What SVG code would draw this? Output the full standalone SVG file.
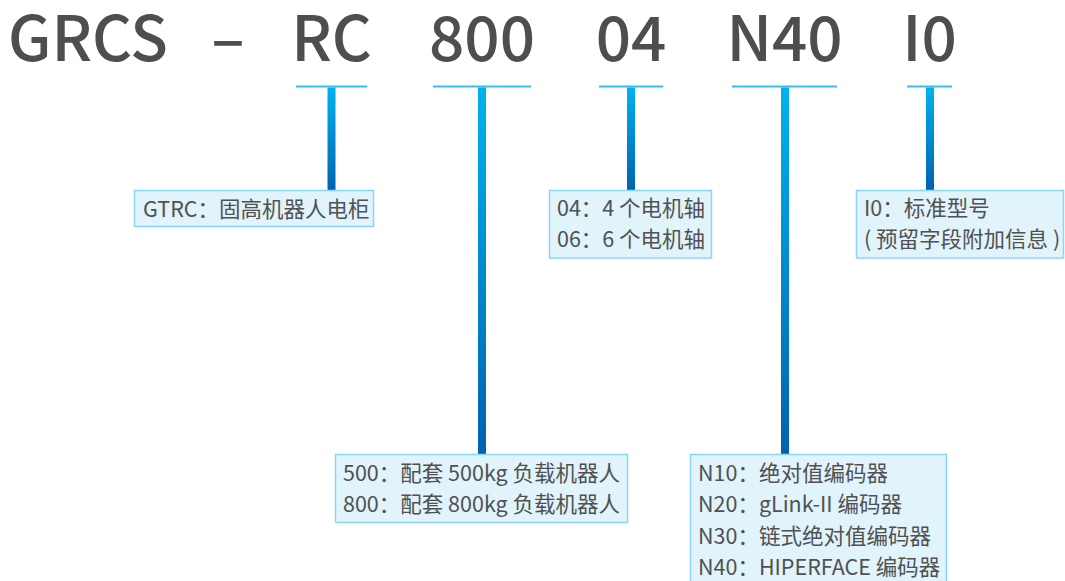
<svg xmlns="http://www.w3.org/2000/svg" width="1065" height="581" viewBox="0 0 1065 581">
<style>
.title{font-family:"Noto Sans CJK SC","Noto Sans",sans-serif;font-size:62px;font-weight:500;fill:#4d4e50;text-anchor:middle}
.lbl{font-family:"Noto Sans CJK SC","Noto Sans",sans-serif;font-size:21.5px;fill:#505152}
.box{fill:#e1f3fb;stroke:#8ad6f7;stroke-width:1.5}
.ul{fill:#33bff2}
.bar{fill:url(#g)}
</style>
<defs>
<linearGradient id="g" x1="0" y1="0" x2="0" y2="1">
<stop offset="0" stop-color="#00b2ef"/>
<stop offset="1" stop-color="#0062b1"/>
</linearGradient>
</defs>
<g id="title">
<text class="title" x="88" y="61">GRCS</text>
<text class="title" x="228" y="61">–</text>
<text class="title" x="331.5" y="61">RC</text>
<text class="title" x="482" y="61">800</text>
<text class="title" x="631" y="61">04</text>
<text class="title" x="784.5" y="61">N40</text>
<text class="title" x="929.5" y="61">I0</text>
</g>
<g id="connectors">
<rect class="ul" x="296" y="85.5" width="71" height="2"/>
<rect class="ul" x="433" y="85.5" width="98" height="2"/>
<rect class="ul" x="599" y="85.5" width="64" height="2"/>
<rect class="ul" x="732" y="85.5" width="105" height="2"/>
<rect class="ul" x="907" y="85.5" width="45" height="2"/>
<rect class="bar" x="327.5" y="87.5" width="8" height="103"/>
<rect class="bar" x="478" y="87.5" width="8" height="367"/>
<rect class="bar" x="627" y="87.5" width="8" height="103"/>
<rect class="bar" x="781" y="87.5" width="8" height="367"/>
<rect class="bar" x="926" y="87.5" width="8" height="103"/>
</g>
<g id="node-gtrc">
<rect class="box" x="134.5" y="190.5" width="239" height="36"/>
<text class="lbl" x="143" y="216.5">GTRC：固高机器人电柜</text>
</g>
<g id="node-axes">
<rect class="box" x="549.5" y="190.5" width="162" height="67.5"/>
<text class="lbl" x="557" y="215.5">04：4 个电机轴</text>
<text class="lbl" x="557" y="246.5">06：6 个电机轴</text>
</g>
<g id="node-i0">
<rect class="box" x="856.5" y="190.5" width="207" height="67.5"/>
<text class="lbl" x="864" y="215.5">I0：标准型号</text>
<text class="lbl" x="864" y="246.5">( 预留字段附加信息 )</text>
</g>
<g id="node-load">
<rect class="box" x="335.5" y="454.5" width="292" height="68"/>
<text class="lbl" x="343" y="480.5">500：配套 500kg 负载机器人</text>
<text class="lbl" x="343" y="512">800：配套 800kg 负载机器人</text>
</g>
<g id="node-encoder">
<rect class="box" x="690.5" y="454.5" width="256" height="140"/>
<text class="lbl" x="698" y="480.5">N10：绝对值编码器</text>
<text class="lbl" x="698" y="512">N20：gLink-II 编码器</text>
<text class="lbl" x="698" y="543.5">N30：链式绝对值编码器</text>
<text class="lbl" x="698" y="575">N40：HIPERFACE 编码器</text>
</g>
</svg>
